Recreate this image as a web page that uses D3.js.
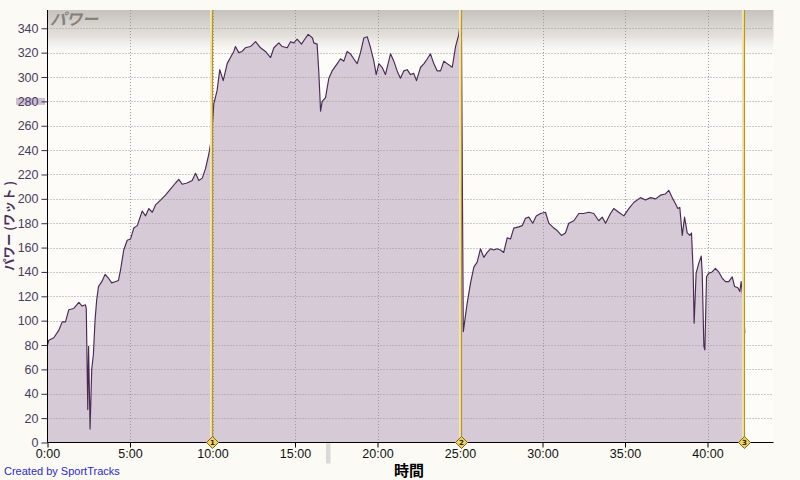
<!DOCTYPE html>
<html>
<head>
<meta charset="utf-8">
<script src="https://cdn.jsdelivr.net/npm/d3@7/dist/d3.min.js"></script>
<style>
html,body{margin:0;padding:0;background:#fbfaf5;}
svg{display:block;}
</style>
</head>
<body>
<svg id="chart" width="800" height="480"></svg>
<script>
// ---- data (time in minutes, power in watts) ----
const timeMin = [
 0,0.08,0.38,0.68,0.89,1.09,1.29,1.59,1.90,2.10,2.30,2.35,2.44,2.49,2.58,2.68,2.78,2.88,2.98,3.09,
 3.29,3.49,3.69,3.89,4.10,4.30,4.42,4.62,4.83,5.03,5.23,5.44,5.74,5.94,6.14,6.35,6.55,6.85,7.15,7.45,
 7.76,7.96,8.16,8.46,8.77,8.97,9.17,9.38,9.58,9.78,9.88,10.0,10.08,10.28,10.44,10.65,10.89,11.09,11.29,11.39,
 11.59,11.79,11.99,12.30,12.61,12.91,13.21,13.52,13.72,14.02,14.22,14.53,14.73,14.93,15.13,15.39,15.59,15.80,16.06,16.14,
 16.34,16.44,16.55,16.65,16.85,17.05,17.25,17.56,17.76,17.96,18.16,18.36,18.56,18.77,18.97,19.17,19.38,19.58,19.78,19.92,
 20.08,20.28,20.48,20.79,20.99,21.19,21.39,21.59,21.80,22.00,22.20,22.36,22.61,22.82,23.02,23.21,23.41,23.62,23.82,24.02,
 24.22,24.53,24.73,24.93,25.03,25.09,25.20,25.43,25.64,25.84,26.04,26.24,26.44,26.65,26.85,27.05,27.25,27.45,27.65,27.86,
 28.06,28.26,28.56,28.77,28.97,29.17,29.41,29.62,29.88,30.18,30.38,30.69,30.89,31.15,31.39,31.59,31.90,32.20,32.50,32.81,
 33.11,33.41,33.62,33.82,34.12,34.32,34.62,34.93,35.23,35.53,35.94,36.24,36.55,36.85,37.15,37.45,37.65,37.86,38.06,38.20,
 38.32,38.47,38.61,38.77,38.93,39.03,39.13,39.19,39.31,39.47,39.62,39.68,39.78,39.84,39.94,40.08,40.28,40.48,40.68,40.89,
 41.09,41.29,41.50,41.64,41.84,41.96,42.04,42.14,42.26
];
const power = [
 80,84,86,92,99,99,109,110,115,112,113,110,27,79,11,60,72,100,117,128,
 132,138,135,131,132,133,141,158,166,167,176,178,190,186,192,189,195,199,203,208,
 213,216,212,213,215,221,215,217,225,237,245,262,278,289,306,297,311,316,321,325,
 320,321,324,325,329,324,321,316,324,328,325,324,329,328,331,327,331,335,332,328,
 327,305,272,280,283,299,305,311,315,313,321,319,315,311,320,332,333,324,313,302,
 311,308,302,319,313,305,299,305,306,302,303,297,308,311,315,319,311,305,305,313,
 311,308,325,335,347,330,91,114,131,144,148,159,152,156,159,158,159,158,156,168,
 167,176,177,178,184,185,180,186,188,189,180,176,174,170,172,180,182,188,188,189,
 188,182,185,180,188,192,189,186,192,197,201,199,201,200,203,204,207,201,196,192,
 193,170,185,172,170,172,141,98,139,147,153,139,79,76,136,139,140,143,140,135,
 132,132,136,128,127,124,132,119,90
];
const markerTimes = [10.0, 25.09, 42.24];
const markerLabels = ["1", "2", "3"];
const yTicks = [0,20,40,60,80,100,120,140,160,180,200,220,240,260,280,300,320,340];
const xTicks = [0,5,10,15,20,25,30,35,40];
const xTickLabels = ["0:00","5:00","10:00","15:00","20:00","25:00","30:00","35:00","40:00"];
const chartTitle = "パワー";
const yAxisTitle = "パワー (ワット )";
const xAxisTitle = "時間";
const credit = "Created by SportTracks";

// ---- layout ----
const L = 47.5, R = 773.5, T = 10, B = 442.5;
const svg = d3.select("#chart");
const x = d3.scaleLinear().domain([0, 44]).range([L, R]);
const y = d3.scaleLinear().domain([0, 355]).range([B, T]);

const defs = svg.append("defs");
const grad = defs.append("linearGradient").attr("id","topband").attr("x1",0).attr("y1",0).attr("x2",0).attr("y2",1);
grad.append("stop").attr("offset","0%").attr("stop-color","#c6c2bd");
grad.append("stop").attr("offset","55%").attr("stop-color","#e4e1dc");
grad.append("stop").attr("offset","100%").attr("stop-color","#fbfaf5").attr("stop-opacity",0);

// plot background
svg.append("rect").attr("x",L).attr("y",T).attr("width",R-L).attr("height",B-T).attr("fill","#fdfcf8");
svg.append("rect").attr("x",L).attr("y",T).attr("width",R-L).attr("height",48).attr("fill","url(#topband)");

// data
const data = timeMin.map((t,i)=>({t, p: power[i]}));

// area
svg.append("path").datum(data)
  .attr("d", d3.area().x(d=>x(d.t)).y0(y(0)).y1(d=>y(d.p)))
  .attr("fill","#d5cad6");

// gridlines
const grid = svg.append("g").attr("stroke","#9a9a9a").attr("stroke-width",1).attr("stroke-dasharray","1,2");
yTicks.filter(v=>v>0).forEach(v=>{
  grid.append("line").attr("x1",L).attr("x2",R).attr("y1",Math.round(y(v))+0.5).attr("y2",Math.round(y(v))+0.5);
});
xTicks.filter(v=>v>0).forEach(v=>{
  grid.append("line").attr("x1",Math.round(x(v))+0.5).attr("x2",Math.round(x(v))+0.5).attr("y1",T).attr("y2",B);
});

// line
svg.append("path").datum(data)
  .attr("d", d3.line().x(d=>x(d.t)).y(d=>y(d.p)))
  .attr("fill","none").attr("stroke","#4a2a55").attr("stroke-width",1.15).attr("stroke-linejoin","round");

// marker lines
markerTimes.forEach((m,i)=>{
  const mx = x(m);
  svg.append("line").attr("x1",mx-1).attr("x2",mx-1).attr("y1",T).attr("y2",B).attr("stroke","#f3e6a6").attr("stroke-width",3);
  svg.append("line").attr("x1",mx).attr("x2",mx).attr("y1",T).attr("y2",B).attr("stroke","#b8922e").attr("stroke-width",1.2);
});

// y axis
const yAxis = d3.axisLeft(y).tickValues(yTicks).tickSize(6).tickPadding(3);
const ya = svg.append("g").attr("transform",`translate(${L},0)`).call(yAxis);
ya.select(".domain").attr("stroke","#000").attr("d",`M0,${T}V${B}`);
ya.selectAll(".tick line").attr("stroke","#3a2a4a");
ya.selectAll(".tick text").attr("fill","#4a3c60").attr("font-family","Liberation Sans, Arial, sans-serif").attr("font-size","12.5px");

// highlight behind 280 label
svg.insert("rect", "g").attr("x",16).attr("y",y(280)-3.5).attr("width",29).attr("height",7).attr("fill","#cdbfd2");
ya.raise();

// x axis
const xAxis = d3.axisBottom(x).tickValues(xTicks).tickFormat((d,i)=>xTickLabels[i]).tickSize(5).tickPadding(2);
const xa = svg.append("g").attr("transform",`translate(0,${B})`).call(xAxis);
xa.select(".domain").attr("stroke","#000").attr("d",`M${L},0H${R}`);
xa.selectAll(".tick line").attr("stroke","#000");
xa.selectAll(".tick text").attr("fill","#111").attr("font-family","Liberation Sans, Arial, sans-serif").attr("font-size","12.5px");

// small gray bar under axis
svg.append("rect").attr("x",326).attr("y",B+1).attr("width",4.5).attr("height",20).attr("fill","#d9d9d7");

// marker diamonds
markerTimes.forEach((m,i)=>{
  const mx = x(m);
  const g = svg.append("g").attr("transform",`translate(${mx},${B})`);
  g.append("path").attr("d","M0,-6L6,0L0,6L-6,0Z").attr("fill","#f2d45c").attr("stroke","#7a6420").attr("stroke-width",1);
  g.append("text").attr("x",0).attr("y",2.5).attr("text-anchor","middle")
    .attr("font-family","DejaVu Sans, sans-serif").attr("font-size","7px").attr("font-weight","bold").attr("fill","#222").text(markerLabels[i]);
});

// title (slanted)
svg.append("text").attr("transform","translate(50,25) skewX(-15)").attr("fill","#85817d")
  .attr("font-family","Noto Sans CJK JP, sans-serif").attr("font-size","16px").attr("font-weight","bold")
  .text(chartTitle);

// y axis title
svg.append("text").attr("transform","translate(14,226) rotate(-90)").attr("text-anchor","middle")
  .attr("fill","#4a2f5e").attr("font-family","Noto Sans CJK JP, sans-serif").attr("font-size","12.5px").attr("font-weight","bold")
  .text(yAxisTitle);

// x axis title
svg.append("text").attr("x",409).attr("y",476).attr("text-anchor","middle")
  .attr("fill","#000").attr("font-family","Noto Sans CJK JP, sans-serif").attr("font-size","15px").attr("font-weight","bold")
  .text(xAxisTitle);

// credit
svg.append("text").attr("x",4).attr("y",475).attr("fill","#2b2bc8")
  .attr("font-family","Liberation Sans, Arial, sans-serif").attr("font-size","11px")
  .text(credit);
</script>
</body>
</html>
